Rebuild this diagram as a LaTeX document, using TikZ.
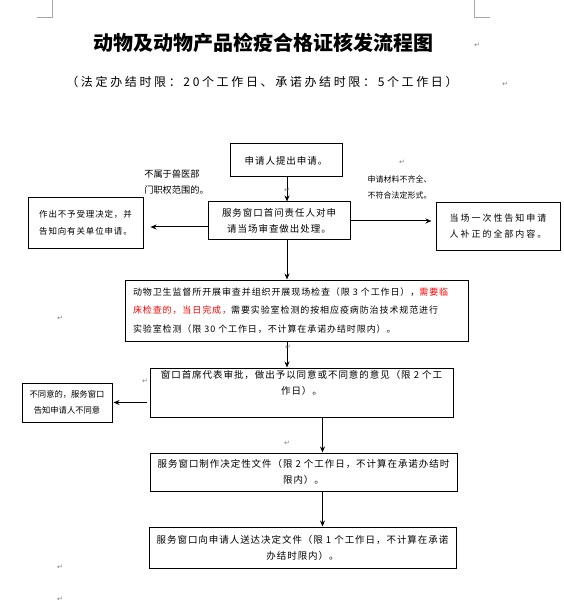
\documentclass[tikz,border=0pt]{standalone}
\usepackage{fontspec}
\usepackage{xcolor}
\usetikzlibrary{arrows.meta, positioning, calc}
\setmainfont{Noto Sans CJK SC}
\newfontfamily\cjk{Noto Sans CJK SC}[LetterSpace=10]
\newfontfamily\cjkwide{Noto Sans CJK SC}[LetterSpace=22]
\newfontfamily\markfont{DejaVu Sans}

\begin{document}
\begin{tikzpicture}[
    x=1pt, y=-1pt,
    box/.style={draw, line width=1pt, inner sep=2pt, align=center, font=\cjk\fontsize{9.5}{16}\selectfont},
    note/.style={align=left, inner sep=0pt, font=\fontsize{8}{16}\selectfont},
    pmark/.style={text=gray, inner sep=0pt, font=\markfont\fontsize{7}{7}\selectfont},
    crop/.style={gray!70, line width=0.8pt},
    arr/.style={->, line width=1pt},
    >={Stealth[length=6pt, width=5pt]}
]
    \useasboundingbox (0,0) rectangle (563,609);

    % page corner marks
    \draw[crop] (52,0) -- (52,17) -- (37,17);
    \draw[crop] (474,0) -- (474,17) -- (490,17);

    % headings
    \node[font=\bfseries\fontsize{20}{24}\selectfont] (title) at (263,43) {动物及动物产品检疫合格证核发流程图};
    \node[font=\cjkwide\fontsize{12}{14}\selectfont] (sub) at (262,82) {（法定办结时限：20个工作日、承诺办结时限：5个工作日）};

    \coordinate (mainx) at (287,0);
    \coordinate (lowx) at (322.5,0);

    % boxes
    \node[box, minimum width=112, minimum height=33] (apply) at (286,160.5) {申请人提出申请。};
    \node[box, minimum width=142, minimum height=38] (check) at (279,221) {服务窗口首问责任人对申\\请当场审查做出处理。};
    \node[box, align=left, minimum width=115, minimum height=50, font=\cjk\fontsize{8.5}{17}\selectfont] (refuse) at (85.5,223) {作出不予受理决定，并\\告知向有关单位申请。};
    \node[box, align=left, minimum width=124, minimum height=47, font=\cjkwide\fontsize{9}{16}\selectfont] (notify) at (498,226.5) {当场一次性告知申请\\人补正的全部内容。};
    \node[box, align=left, text width=327, inner xsep=8pt, minimum height=61, font=\cjk\fontsize{9}{18.5}\selectfont] (exam) at (296.5,310.5)
        {动物卫生监督所开展审查并组织开展现场检查（限 3 个工作日），{\color{red}需要临\\床检查的，当日完成，}需要实验室检测的按相应疫病防治技术规范进行\\实验室检测（限 30 个工作日，不计算在承诺办结时限内）。};
    \node[box, minimum width=303, minimum height=49] (approve) at (301.5,392.5) {窗口首席代表审批，做出予以同意或不同意的意见（限 2 个工\\作日）。\\[4pt]};
    \node[box, minimum width=90, minimum height=39, font=\fontsize{8.3}{16}\selectfont] (deny) at (67,402.5) {不同意的，服务窗口\\告知申请人不同意};
    \node[box, minimum width=307, minimum height=38] (make) at (303.5,472) {服务窗口制作决定性文件（限 2 个工作日，不计算在承诺办结时\\限内）。};
    \node[box, minimum width=307, minimum height=41] (send) at (302.5,547.5) {服务窗口向申请人送达决定文件（限 1 个工作日，不计算在承诺\\办结时限内）。};

    % side notes
    \node[note, font=\fontsize{9.2}{16}\selectfont] (outside) at (176.5,182) {不属于兽医部\\门职权范围的。};
    \node[note] (incomplete) at (399.5,187) {申请材料不齐全、\\不符合法定形式。};

    % connectors
    \draw[arr] (apply.south -| mainx) -- (check.north -| mainx);
    \draw[arr, shorten >=7pt] ([yshift=-6pt]check.west) -- ([yshift=-6pt]check.west -| refuse.east);
    \draw[arr, shorten >=4pt] (check.east) -- (check.east -| notify.west);
    \draw[arr] (check.south -| mainx) -- (exam.north -| mainx);
    \draw[arr] (exam.south -| mainx) -- (approve.north -| mainx);
    \draw[arr, shorten <=3pt, shorten >=1pt] (approve.west |- deny.east) -- (deny.east);
    \draw[arr] (approve.south -| lowx) -- (make.north -| lowx);
    \draw[arr] (make.south -| lowx) -- (send.north -| lowx);

    % paragraph marks
    \node[pmark] (m1) at (477,45) {↵};
    \node[pmark] (m2) at (505,84) {↵};
    \node[pmark] (m3) at (402,162) {↵};
    \node[pmark] (m4) at (287,190) {↵};
    \node[pmark] (m5) at (60,318) {↵};
    \node[pmark] (m6) at (145,381) {↵};
    \node[pmark] (m7) at (288,347) {↵};
    \node[pmark] (m8) at (287,443) {↵};
    \node[pmark] (m9) at (60,567) {↵};
    \node[pmark] (m10) at (60,599) {↵};
\end{tikzpicture}
\end{document}
